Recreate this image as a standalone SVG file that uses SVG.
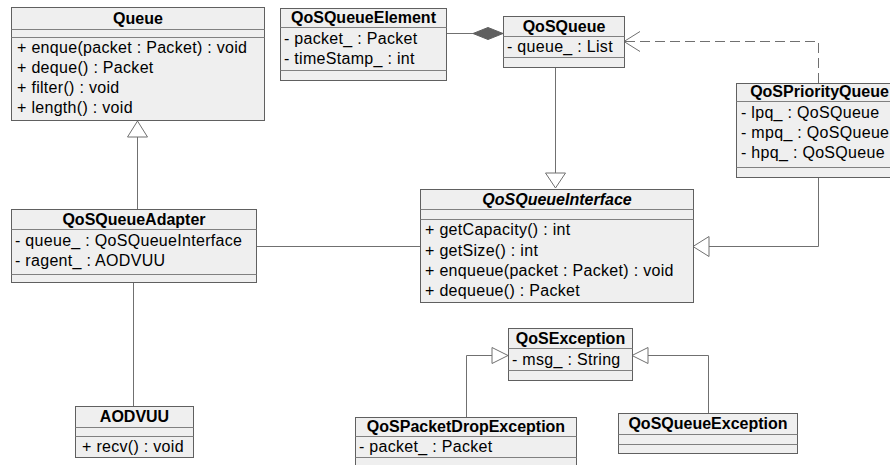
<svg xmlns="http://www.w3.org/2000/svg" width="890" height="465" viewBox="0 0 890 465">
  <style>
    .box { fill: #efefef; stroke: #606060; stroke-width: 1; }
    .sep { stroke: #808080; stroke-width: 1; fill: none; }
    .t { font-family: "Liberation Sans", Arial, sans-serif; font-size: 16px; fill: #000; }
    .m { letter-spacing: 0.3px; }
    .title { font-weight: bold; text-anchor: middle; }
    .abstract { font-style: italic; }
    .edge { stroke: #707070; stroke-width: 1; fill: none; }
    .dash { stroke-dasharray: 10 5; }
    .hollow { fill: #ffffff; stroke: #707070; stroke-width: 1; }
    .solid { fill: #606060; stroke: #606060; stroke-width: 1; }
  </style>
  <rect width="890" height="465" fill="#ffffff"/>

  <!-- connectors -->
  <g id="connectors">
    <!-- QoSQueueAdapter extends Queue -->
    <line class="edge" x1="137.5" y1="209" x2="137.5" y2="137"/>
    <polygon class="hollow" points="137.5,121 127.5,137 147.5,137"/>
    <!-- QoSQueue composed of QoSQueueElement -->
    <line class="edge" x1="446" y1="33.5" x2="473" y2="33.5"/>
    <polygon class="solid" points="473,33.5 488,27.5 503,33.5 488,39.5"/>
    <!-- QoSQueue implements QoSQueueInterface -->
    <line class="edge" x1="555.5" y1="67" x2="555.5" y2="173"/>
    <polygon class="hollow" points="555.5,188 545.5,173 565.5,173"/>
    <!-- adapter uses interface -->
    <line class="edge" x1="256" y1="246.5" x2="420" y2="246.5"/>
    <!-- QoSPriorityQueue implements QoSQueueInterface -->
    <polyline class="edge" points="818.5,177 818.5,246.5 709,246.5"/>
    <polygon class="hollow" points="693,246.5 709,236.5 709,256.5"/>
    <!-- QoSPriorityQueue depends on QoSQueue -->
    <polyline class="edge dash" points="818.5,83 818.5,41.5 625,41.5"/>
    <polyline class="edge" points="640,31.5 624,41.5 640,51.5"/>
    <!-- adapter to AODVUU -->
    <line class="edge" x1="133.5" y1="282" x2="133.5" y2="406"/>
    <!-- exceptions extend QoSException -->
    <polyline class="edge" points="466.5,417 466.5,355.5 492,355.5"/>
    <polygon class="hollow" points="508,355.5 492,347.5 492,363.5"/>
    <polyline class="edge" points="708.5,413 708.5,355.5 648,355.5"/>
    <polygon class="hollow" points="632,355.5 648,347.5 648,363.5"/>
  </g>

  <g id="Queue">
    <rect class="box" x="11.5" y="7.5" width="253" height="113"/>
    <line class="sep" x1="11.5" y1="29.5" x2="264.5" y2="29.5"/>
    <line class="sep" x1="11.5" y1="37.5" x2="264.5" y2="37.5"/>
    <text class="t title" x="138" y="24">Queue</text>
    <text class="t m" x="17" y="53">+ enque(packet : Packet) : void</text>
    <text class="t m" x="17" y="73">+ deque() : Packet</text>
    <text class="t m" x="17" y="93">+ filter() : void</text>
    <text class="t m" x="17" y="113">+ length() : void</text>
  </g>

  <g id="QoSQueueElement">
    <rect class="box" x="280.5" y="8.5" width="166" height="72"/>
    <line class="sep" x1="280.5" y1="27.5" x2="446.5" y2="27.5"/>
    <line class="sep" x1="280.5" y1="70.5" x2="446.5" y2="70.5"/>
    <text class="t title" x="363.5" y="23">QoSQueueElement</text>
    <text class="t m" x="284" y="44">- packet_ : Packet</text>
    <text class="t m" x="284" y="64">- timeStamp_ : int</text>
  </g>

  <g id="QoSQueue">
    <rect class="box" x="503.5" y="16.5" width="121" height="51"/>
    <line class="sep" x1="503.5" y1="36.5" x2="624.5" y2="36.5"/>
    <line class="sep" x1="503.5" y1="57.5" x2="624.5" y2="57.5"/>
    <text class="t title" x="564" y="32">QoSQueue</text>
    <text class="t m" x="507" y="52">- queue_ : List</text>
  </g>

  <g id="QoSPriorityQueue">
    <rect class="box" x="736.5" y="83.5" width="166" height="94"/>
    <line class="sep" x1="736.5" y1="101.5" x2="902.5" y2="101.5"/>
    <line class="sep" x1="736.5" y1="167.5" x2="902.5" y2="167.5"/>
    <text class="t title" x="819.5" y="97">QoSPriorityQueue</text>
    <text class="t m" x="741" y="118">- lpq_ : QoSQueue</text>
    <text class="t m" x="741" y="138">- mpq_ : QoSQueue</text>
    <text class="t m" x="741" y="158">- hpq_ : QoSQueue</text>
  </g>

  <g id="QoSQueueAdapter">
    <rect class="box" x="11.5" y="209.5" width="245" height="73"/>
    <line class="sep" x1="11.5" y1="229.5" x2="256.5" y2="229.5"/>
    <line class="sep" x1="11.5" y1="274.5" x2="256.5" y2="274.5"/>
    <text class="t title" x="134" y="225">QoSQueueAdapter</text>
    <text class="t m" x="15" y="246">- queue_ : QoSQueueInterface</text>
    <text class="t m" x="15" y="266">- ragent_ : AODVUU</text>
  </g>

  <g id="QoSQueueInterface">
    <rect class="box" x="420.5" y="189.5" width="273" height="113"/>
    <line class="sep" x1="420.5" y1="209.5" x2="693.5" y2="209.5"/>
    <line class="sep" x1="420.5" y1="219.5" x2="693.5" y2="219.5"/>
    <text class="t title abstract" x="557" y="205">QoSQueueInterface</text>
    <text class="t m" x="425" y="235">+ getCapacity() : int</text>
    <text class="t m" x="425" y="256">+ getSize() : int</text>
    <text class="t m" x="425" y="276">+ enqueue(packet : Packet) : void</text>
    <text class="t m" x="425" y="296">+ dequeue() : Packet</text>
  </g>

  <g id="AODVUU">
    <rect class="box" x="75.5" y="406.5" width="118" height="51"/>
    <line class="sep" x1="75.5" y1="427.5" x2="193.5" y2="427.5"/>
    <line class="sep" x1="75.5" y1="436.5" x2="193.5" y2="436.5"/>
    <text class="t title" x="134.5" y="422">AODVUU</text>
    <text class="t m" x="82" y="452">+ recv() : void</text>
  </g>

  <g id="QoSException">
    <rect class="box" x="508.5" y="328.5" width="124" height="52"/>
    <line class="sep" x1="508.5" y1="348.5" x2="632.5" y2="348.5"/>
    <line class="sep" x1="508.5" y1="370.5" x2="632.5" y2="370.5"/>
    <text class="t title" x="570.5" y="344">QoSException</text>
    <text class="t m" x="512" y="365">- msg_ : String</text>
  </g>

  <g id="QoSPacketDropException">
    <rect class="box" x="355.5" y="417.5" width="221" height="60"/>
    <line class="sep" x1="355.5" y1="436.5" x2="576.5" y2="436.5"/>
    <line class="sep" x1="355.5" y1="457.5" x2="576.5" y2="457.5"/>
    <text class="t title" x="466" y="432">QoSPacketDropException</text>
    <text class="t m" x="359" y="452">- packet_ : Packet</text>
  </g>

  <g id="QoSQueueException">
    <rect class="box" x="618.5" y="413.5" width="179" height="40"/>
    <line class="sep" x1="618.5" y1="434.5" x2="797.5" y2="434.5"/>
    <line class="sep" x1="618.5" y1="444.5" x2="797.5" y2="444.5"/>
    <text class="t title" x="708" y="429">QoSQueueException</text>
  </g>
</svg>
